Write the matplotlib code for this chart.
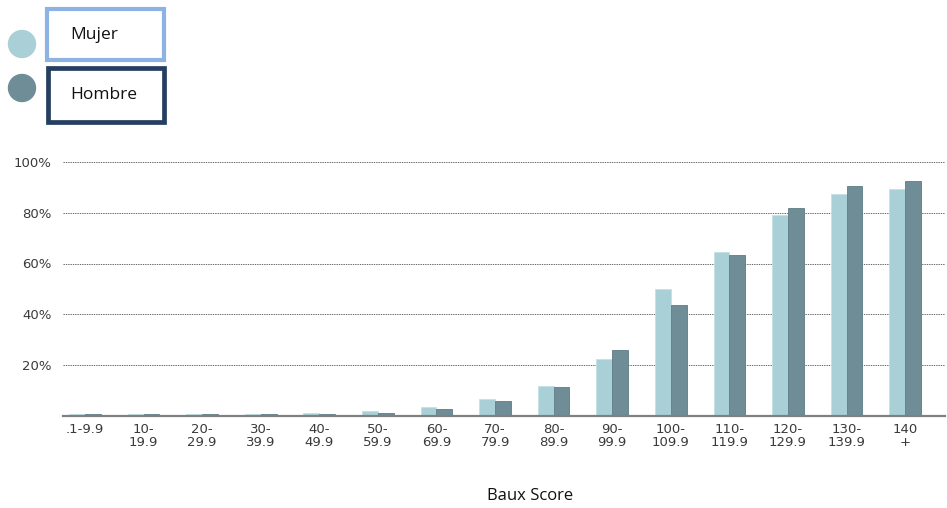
import matplotlib
matplotlib.use("Agg")
import matplotlib.pyplot as plt
from matplotlib.patches import Circle, Rectangle
import numpy as np

# Score bands and share of each group per band (%)
categories = [".1-9.9", "10-\n19.9", "20-\n29.9", "30-\n39.9", "40-\n49.9",
              "50-\n59.9", "60-\n69.9", "70-\n79.9", "80-\n89.9", "90-\n99.9",
              "100-\n109.9", "110-\n119.9", "120-\n129.9", "130-\n139.9", "140\n+"]
mujer = [0.5, 0.5, 0.5, 0.8, 1.2, 2.0, 3.4, 6.6, 11.8, 22.2, 50.0, 64.6, 79.0, 87.4, 89.3]
hombre = [0.5, 0.5, 0.5, 0.5, 0.8, 1.2, 2.8, 5.8, 11.2, 25.9, 43.5, 63.4, 81.7, 90.5, 92.7]
yticks = [20, 40, 60, 80, 100]
ytick_labels = ["20%", "40%", "60%", "80%", "100%"]
series_names = ["Mujer", "Hombre"]
xlabel = "Baux Score"

c_mujer = "#a9d0d6"
c_hombre = "#6f8d97"
tick_color = "#3a3a3a"

W, H = 947, 508
fig = plt.figure(figsize=(W / 100, H / 100), dpi=100)

left, right, top, bottom = 63, 945, 162, 415.75
ax = fig.add_axes([left / W, 1 - bottom / H, (right - left) / W, (bottom - top) / H])

x = np.arange(len(categories))
bw = 0.27
ax.bar(x - bw / 2, mujer, bw, color=c_mujer, edgecolor="#c4e0e4", linewidth=0.6, zorder=3)
ax.bar(x + bw / 2, hombre, bw, color=c_hombre, edgecolor="#5f7c86", linewidth=0.6, zorder=3)

ax.set_xlim(-0.375, len(categories) - 1 + 0.68)
ax.set_ylim(0, 100)

for t in yticks:
    ax.axhline(t, color="#666666", linestyle=(0, (1.4, 1.0)), linewidth=0.7, zorder=1)

ax.set_yticks(yticks)
ax.set_yticklabels(ytick_labels, fontsize=9.5, color=tick_color, family="DejaVu Sans")
ax.set_xticks(x)
ax.set_xticklabels(categories, fontsize=9.5, color=tick_color, family="DejaVu Sans",
                   linespacing=1.0)
ax.tick_params(axis="both", length=0)
ax.tick_params(axis="y", pad=8)
ax.tick_params(axis="x", pad=5)

for s in ["top", "right", "left"]:
    ax.spines[s].set_visible(False)
ax.spines["bottom"].set_color("#808080")
ax.spines["bottom"].set_linewidth(1.6)
ax.spines["bottom"].set_zorder(4)

# Legend drawn in pixel space above the chart
lg = fig.add_axes([0, 0, 1, 1], zorder=5)
lg.set_xlim(0, W)
lg.set_ylim(H, 0)
lg.axis("off")
lg.patch.set_alpha(0)

lg.add_patch(Circle((22, 44), 13.5, color=c_mujer))
lg.add_patch(Circle((22, 88), 13.5, color=c_hombre))
lg.add_patch(Rectangle((47, 8.5), 117, 51, fill=False, edgecolor="#8db3e2", linewidth=3.0))
lg.add_patch(Rectangle((47.5, 68), 116, 54, fill=False, edgecolor="#243f60", linewidth=3.4))
lg.text(70, 35, series_names[0], fontsize=12.5, family="Open Sans", va="center", color="#111111")
lg.text(70, 95, series_names[1], fontsize=12.5, family="Open Sans", va="center", color="#111111")

fig.text(530 / W, 1 - 496 / H, xlabel, fontsize=12, family="Open Sans",
         ha="center", va="center", color="#111111")

fig.savefig("out.png", dpi=100, facecolor="white")
